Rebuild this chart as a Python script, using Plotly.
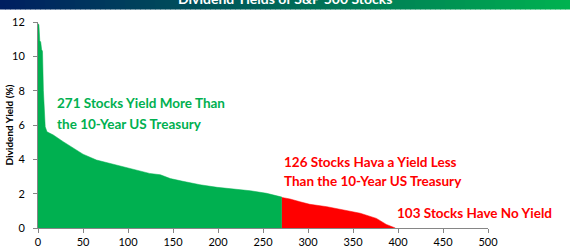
import plotly.graph_objects as go

# ---- data (rank of stock, dividend yield %) ----
green_rank = [0, 1, 2, 3, 4, 5, 6, 7, 8, 10, 17, 28, 43, 50, 65, 87, 106, 124, 136,
              147, 161, 180, 199, 220, 236, 254, 271]
green_yield = [11.9, 11.85, 10.9, 10.85, 10.4, 10.3, 8.0, 6.6, 5.9, 5.6, 5.42, 5.03, 4.54,
               4.3, 3.96, 3.67, 3.38, 3.18, 3.1, 2.88, 2.72, 2.52, 2.37, 2.25, 2.17, 2.02, 1.8]
red_rank = [271, 280, 291, 302, 321, 339, 358, 376, 387, 397]
red_yield = [1.78, 1.69, 1.53, 1.38, 1.24, 1.05, 0.86, 0.56, 0.21, 0.0]

x_ticks = [0, 50, 100, 150, 200, 250, 300, 350, 400, 450, 500]
y_ticks = [0, 2, 4, 6, 8, 10, 12]

title_text = "Dividend Yields of S&P 500 Stocks"
y_title = "Dividend Yield (%)"
green_lines = ["271 Stocks Yield More Than", "the 10-Year US Treasury"]
red_lines = ["126 Stocks Hava a Yield Less", "Than the 10-Year US Treasury"]
zero_text = "103 Stocks Have No Yield"

GREEN = "#00B050"
RED = "#FF0000"
FONT = "Lato"

W, H = 570, 250
L, R, T, B = 38, 82, 22, 22
PW, PH = W - L - R, H - T - B


def px_x(px):
    return (px - L) / PW


def px_y(py):
    return (H - B - py) / PH


fig = go.Figure()
fig.add_trace(go.Scatter(x=green_rank, y=green_yield, mode="lines", fill="tozeroy",
                         line=dict(color=GREEN, width=0.5), fillcolor=GREEN,
                         hoverinfo="skip", showlegend=False))
fig.add_trace(go.Scatter(x=red_rank, y=red_yield, mode="lines", fill="tozeroy",
                         line=dict(color=RED, width=0.5), fillcolor=RED,
                         hoverinfo="skip", showlegend=False))

# title banner gradient (decorative)
n = 114
c0 = (0, 30, 96)
c1 = (0, 178, 80)
shapes = []
for k in range(n):
    t = k / (n - 1)
    col = "rgb(%d,%d,%d)" % tuple(round(a + (b - a) * t) for a, b in zip(c0, c1))
    shapes.append(dict(type="rect", xref="paper", yref="paper",
                       x0=px_x(k * W / n), x1=px_x((k + 1) * W / n + 0.6),
                       y0=px_y(9.5), y1=px_y(-2), fillcolor=col, line=dict(width=0),
                       layer="below"))

annotations = [
    dict(text="<b>%s</b>" % title_text, x=px_x(285), y=px_y(9), xref="paper", yref="paper",
         xanchor="center", yanchor="bottom", showarrow=False,
         font=dict(family=FONT, size=14, color="white")),
    dict(text="<b>%s</b>" % y_title, x=px_x(8.5), y=px_y(125), xref="paper", yref="paper",
         xanchor="center", yanchor="middle", textangle=-90, showarrow=False,
         font=dict(family=FONT, size=10, color="black")),
]
for i, line in enumerate(green_lines):
    annotations.append(dict(text="<b>%s</b>" % line, x=px_x(55), y=px_y([103, 124][i]),
                            xref="paper", yref="paper", xanchor="left", yanchor="middle",
                            showarrow=False, font=dict(family=FONT, size=13.5, color=GREEN)))
for i, line in enumerate(red_lines):
    annotations.append(dict(text="<b>%s</b>" % line, x=px_x(282), y=px_y([162, 181][i]),
                            xref="paper", yref="paper", xanchor="left", yanchor="middle",
                            showarrow=False, font=dict(family=FONT, size=13.5, color=RED)))
annotations.append(dict(text="<b>%s</b>" % zero_text, x=px_x(395), y=px_y(213),
                        xref="paper", yref="paper", xanchor="left", yanchor="middle",
                        showarrow=False, font=dict(family=FONT, size=13.5, color=RED)))

fig.update_layout(
    width=W, height=H,
    margin=dict(l=L, r=R, t=T, b=B, pad=0, autoexpand=False),
    paper_bgcolor="white", plot_bgcolor="white",
    shapes=shapes, annotations=annotations,
    xaxis=dict(range=[0, 500], tickvals=x_ticks, ticktext=[str(v) for v in x_ticks],
               showgrid=False, zeroline=False, showline=True, linecolor="#868686",
               linewidth=1, ticks="outside", ticklen=4, tickcolor="#868686",
               ticklabelstandoff=0, automargin=False,
               tickfont=dict(family=FONT, size=11, color="black"), fixedrange=True),
    yaxis=dict(range=[0, 12], tickvals=y_ticks, ticktext=[str(v) for v in y_ticks],
               showgrid=False, zeroline=False, showline=True, linecolor="#868686",
               linewidth=1, ticks="outside", ticklen=4, tickcolor="#868686",
               ticklabelstandoff=6, automargin=False,
               tickfont=dict(family=FONT, size=11, color="black"),
               fixedrange=True),
)

fig.write_html("out.html")
